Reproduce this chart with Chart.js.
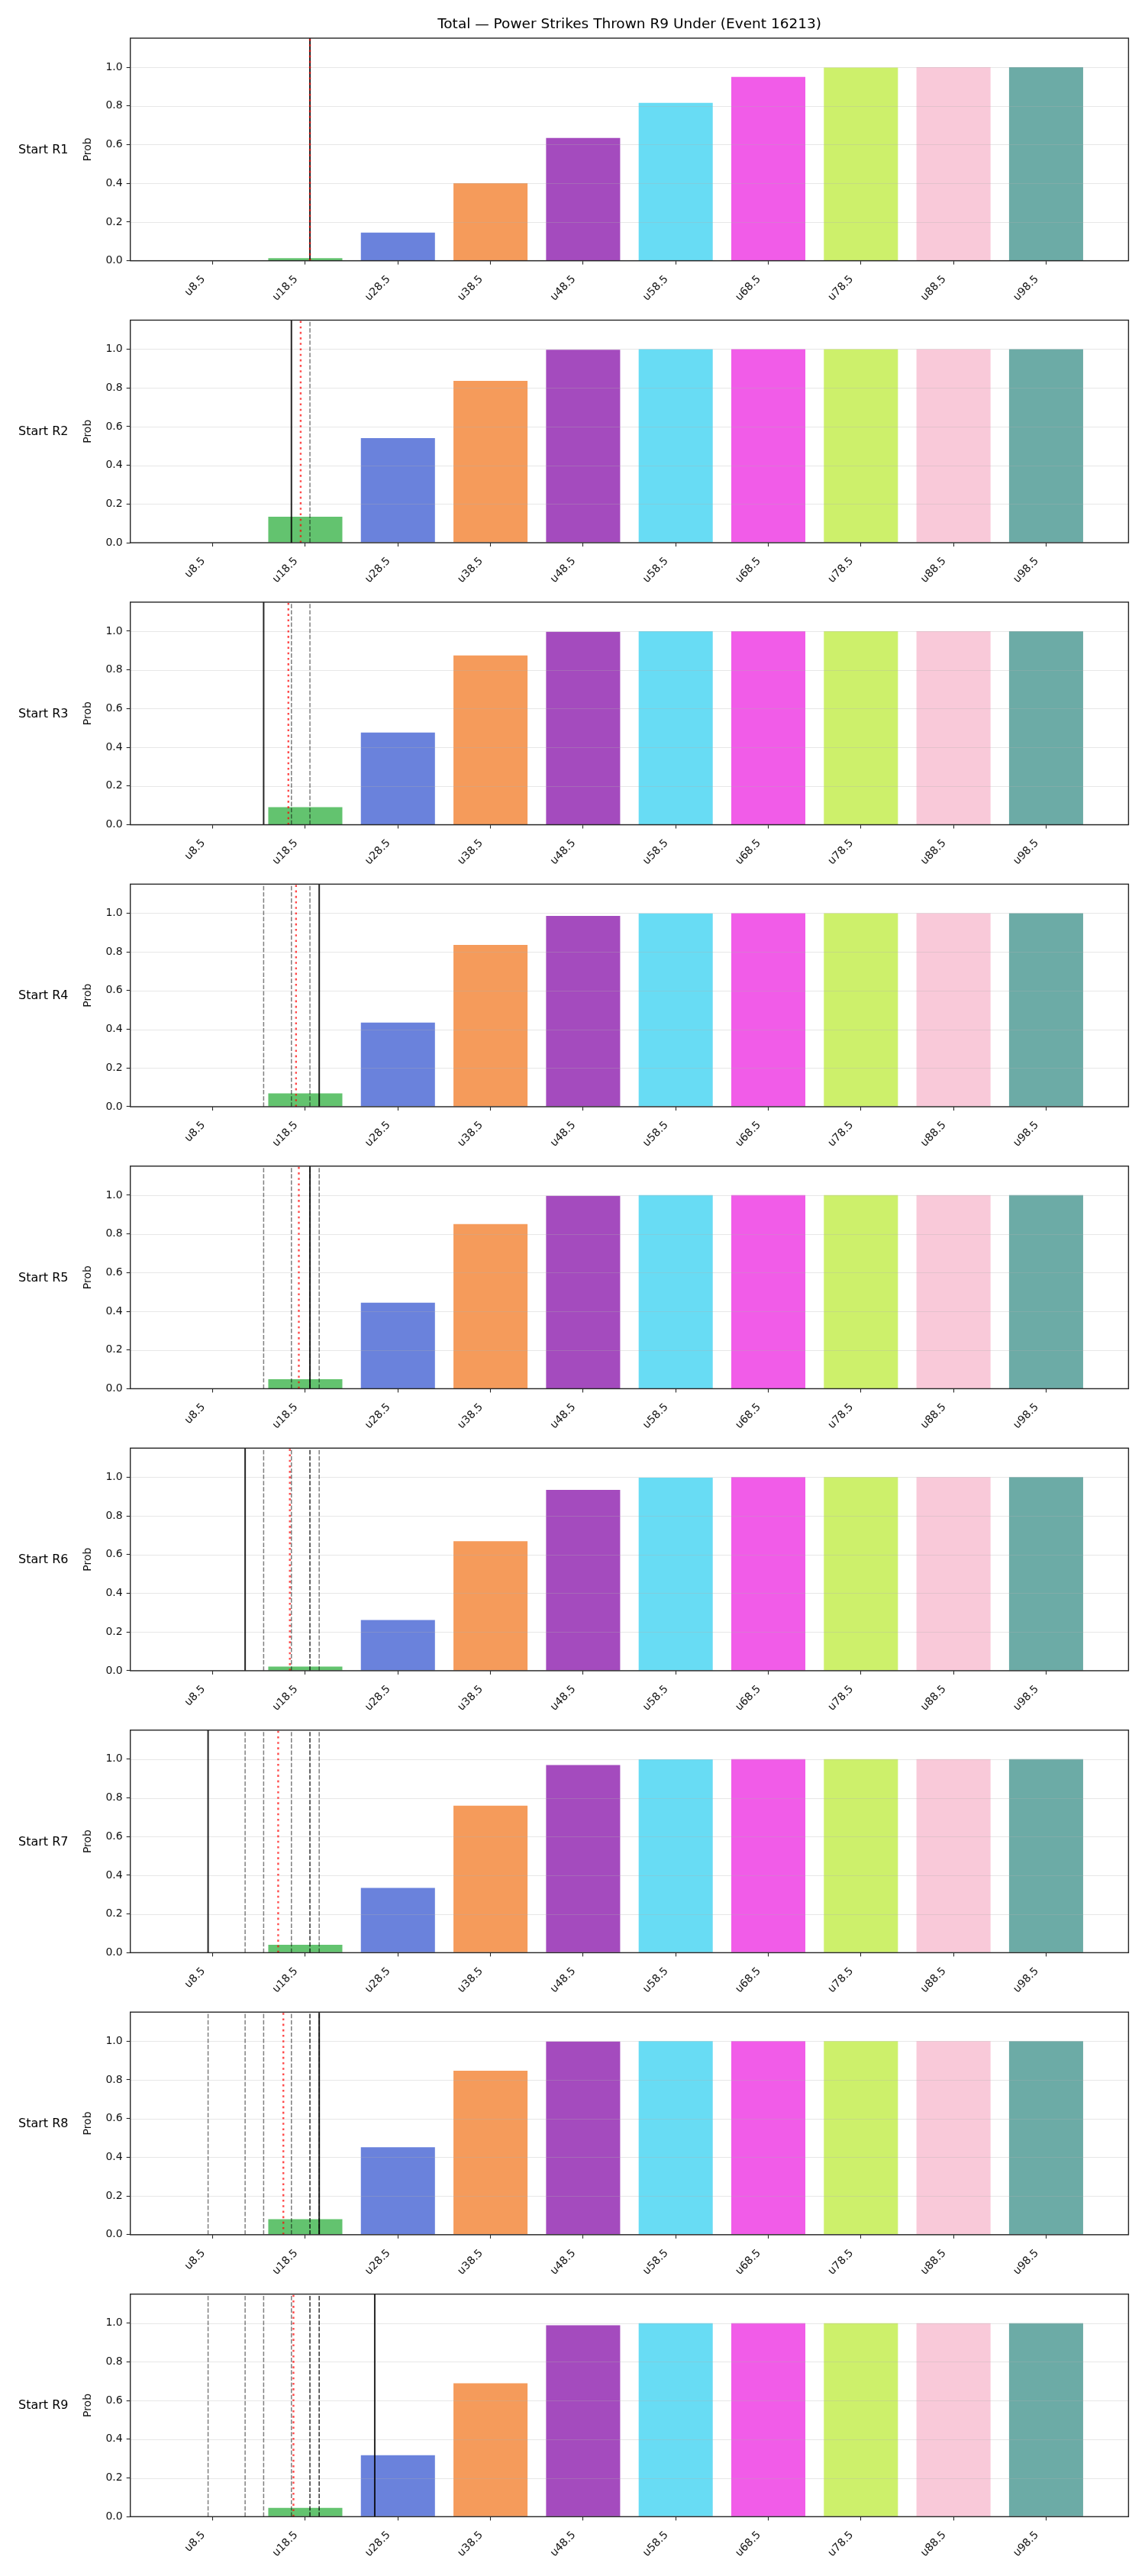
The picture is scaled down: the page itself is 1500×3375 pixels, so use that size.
<!DOCTYPE html>
<html>
<head>
<meta charset="utf-8">
<script src="https://cdn.jsdelivr.net/npm/chart.js@4.4.1/dist/chart.umd.min.js"></script>
<style>
html, body { margin: 0; padding: 0; background: #ffffff; }
#wrap { position: relative; width: 1500px; height: 3375px; background: #ffffff; overflow: hidden; }
#wrap canvas { position: absolute; left: 0; }
.rlab { position: absolute; left: 24px; font-family: "DejaVu Sans", sans-serif; font-size: 16px; line-height: 20px; color: #000; white-space: nowrap; }
</style>
</head>
<body>
<div id="wrap"></div>
<script>
// ---------------- data ----------------
const titleText = 'Total — Power Strikes Thrown R9 Under (Event 16213)';
const categories = ['u8.5', 'u18.5', 'u28.5', 'u38.5', 'u48.5', 'u58.5', 'u68.5', 'u78.5', 'u88.5', 'u98.5'];
const thresholds = [8.5, 18.5, 28.5, 38.5, 48.5, 58.5, 68.5, 78.5, 88.5, 98.5];
const roundLabels = ['Start R1', 'Start R2', 'Start R3', 'Start R4', 'Start R5', 'Start R6', 'Start R7', 'Start R8', 'Start R9'];

const probR1 = [0, 0.013, 0.145, 0.401, 0.634, 0.816, 0.950, 0.998, 1.0, 1.0];
const probR2 = [0, 0.134, 0.541, 0.836, 0.997, 1.0, 1.0, 1.0, 1.0, 1.0];
const probR3 = [0, 0.091, 0.476, 0.875, 0.997, 1.0, 1.0, 1.0, 1.0, 1.0];
const probR4 = [0, 0.069, 0.435, 0.836, 0.986, 0.999, 1.0, 1.0, 1.0, 1.0];
const probR5 = [0, 0.049, 0.444, 0.851, 0.997, 1.0, 1.0, 1.0, 1.0, 1.0];
const probR6 = [0, 0.021, 0.262, 0.669, 0.934, 0.997, 1.0, 1.0, 1.0, 1.0];
const probR7 = [0, 0.041, 0.335, 0.760, 0.970, 0.999, 1.0, 1.0, 1.0, 1.0];
const probR8 = [0, 0.080, 0.452, 0.847, 0.998, 1.0, 1.0, 1.0, 1.0, 1.0];
const probR9 = [0, 0.045, 0.318, 0.689, 0.989, 1.0, 1.0, 1.0, 1.0, 1.0];

// strikes thrown in each round (solid line; earlier rounds shown dashed)
const roundStrikes = [19, 17, 14, 20, 19, 12, 8, 20, 26];
// running average (red dotted line)
const runningMean = [19.0, 18.0, 16.67, 17.5, 17.8, 16.83, 15.57, 16.13, 17.22];

const barColors = ['#e8747c', '#63c36f', '#6a82dc', '#f59b5b', '#a44bbe', '#68dcf4', '#f15ce8', '#cdf06b', '#f9c9d9', '#6caba6'];

const probsByRound = [probR1, probR2, probR3, probR4, probR5, probR6, probR7, probR8, probR9];

// ---------------- layout ----------------
const W = 1500;
const AX_LEFT = 170.7, AX_RIGHT = 1478.4;
const FIRST_TOP = 50, PITCH = 369.46, AX_H = 291.6;
const PAD_LEFT = 106.7;
const X_MIN = -0.4, X_MAX = 107.4, Y_MAX = 1.15;
const TICK_FONT = 14, TITLE_FONT = 18.5;
const FONT = 'DejaVu Sans';
const TEXT = '#111111';
const SPINE = '#262626';

const gridAboveBars = {
  id: 'gridAboveBars',
  afterDatasetDraw(chart, args) {
    if (args.meta.type !== 'bar') return;
    const { ctx, chartArea: a, scales: { y } } = chart;
    ctx.save();
    ctx.strokeStyle = 'rgba(176,176,176,0.3)';
    ctx.lineWidth = 1.1;
    y.ticks.forEach(t => {
      const py = Math.round(y.getPixelForValue(t.value)) + 0.5;
      ctx.beginPath();
      ctx.moveTo(a.left, py);
      ctx.lineTo(a.right, py);
      ctx.stroke();
    });
    ctx.restore();
  }
};

const frame = {
  id: 'frame',
  afterDatasetsDraw(chart) {
    const { ctx, chartArea: a } = chart;
    ctx.save();
    ctx.strokeStyle = SPINE;
    ctx.lineWidth = 1.4;
    ctx.strokeRect(a.left, a.top, a.right - a.left, a.bottom - a.top);
    ctx.restore();
  }
};

const wrap = document.getElementById('wrap');

function vline(x, color, width, dash, order) {
  return {
    type: 'line',
    data: [{ x: x, y: 0 }, { x: x, y: Y_MAX }],
    borderColor: color,
    borderWidth: width,
    borderDash: dash,
    borderCapStyle: 'butt',
    pointRadius: 0,
    fill: false,
    tension: 0,
    order: order
  };
}

function makeChart(i) {
  const top = FIRST_TOP + i * PITCH;
  const canvasTop = i === 0 ? 0 : Math.floor(top) - 30;
  const canvasH = 420;
  const areaTop = top - canvasTop;
  const xH = canvasH - (areaTop + AX_H);

  const cv = document.createElement('canvas');
  cv.width = W; cv.height = canvasH;
  cv.style.top = canvasTop + 'px';
  cv.style.width = W + 'px'; cv.style.height = canvasH + 'px';
  wrap.appendChild(cv);

  const lab = document.createElement('div');
  lab.className = 'rlab';
  lab.textContent = roundLabels[i];
  lab.style.top = (top + AX_H / 2 - 10) + 'px';
  wrap.appendChild(lab);

  const datasets = [];
  datasets.push(vline(runningMean[i], 'rgba(255,0,0,0.7)', 2.4, [2.6, 4.6], 1));
  datasets.push(vline(roundStrikes[i], 'rgba(0,0,0,0.85)', 2, [], 2));
  for (let j = 0; j < i; j++) {
    datasets.push(vline(roundStrikes[j], 'rgba(0,0,0,0.5)', 1.5, [5.7, 2.4], 3));
  }
  datasets.push({
    type: 'bar',
    data: thresholds.map((t, k) => ({ x: t, y: probsByRound[i][k] })),
    backgroundColor: barColors,
    borderWidth: 0,
    barPercentage: 0.8,
    categoryPercentage: 1,
    order: 4
  });

  const titleLH = TITLE_FONT * 1.2;
  const titlePadTop = 31.7 - titleLH / 2;
  const titlePadBottom = FIRST_TOP - titlePadTop - titleLH;

  new Chart(cv, {
    type: 'bar',
    data: { datasets },
    options: {
      responsive: false,
      animation: false,
      devicePixelRatio: 1,
      events: [],
      layout: { padding: { left: PAD_LEFT, right: W - AX_RIGHT, top: i === 0 ? 0 : areaTop, bottom: 0 } },
      plugins: {
        legend: { display: false },
        tooltip: { enabled: false },
        title: i === 0 ? {
          display: true, text: titleText, fullSize: false, color: '#000',
          font: { family: FONT, size: TITLE_FONT, weight: 'normal' },
          padding: { top: titlePadTop, bottom: titlePadBottom }
        } : { display: false }
      },
      scales: {
        x: {
          type: 'linear', position: 'bottom', min: X_MIN, max: X_MAX, offset: false,
          afterBuildTicks: s => { s.ticks = thresholds.map(v => ({ value: v })); },
          afterFit: s => { s.height = xH; },
          ticks: {
            autoSkip: false, minRotation: 45, maxRotation: 45, labelOffset: -12, padding: 11,
            color: TEXT, font: { family: FONT, size: TICK_FONT },
            callback: (v, idx) => categories[idx]
          },
          grid: { display: true, drawOnChartArea: false, drawTicks: true, tickLength: 5, tickColor: SPINE, tickWidth: 1.1, offset: false },
          border: { display: false }
        },
        y: {
          type: 'linear', min: 0, max: Y_MAX,
          afterFit: s => { s.width = AX_LEFT - PAD_LEFT; },
          ticks: {
            stepSize: 0.2, includeBounds: false, padding: 5,
            color: TEXT, font: { family: FONT, size: TICK_FONT },
            callback: v => v.toFixed(1)
          },
          grid: { display: true, drawOnChartArea: false, drawTicks: true, tickLength: 5, tickColor: SPINE, tickWidth: 1.1 },
          border: { display: false },
          title: { display: true, text: 'Prob', padding: 0, color: TEXT, font: { family: FONT, size: TICK_FONT } }
        }
      }
    },
    plugins: [gridAboveBars, frame]
  });
}

for (let i = 0; i < 9; i++) makeChart(i);
</script>
</body>
</html>
